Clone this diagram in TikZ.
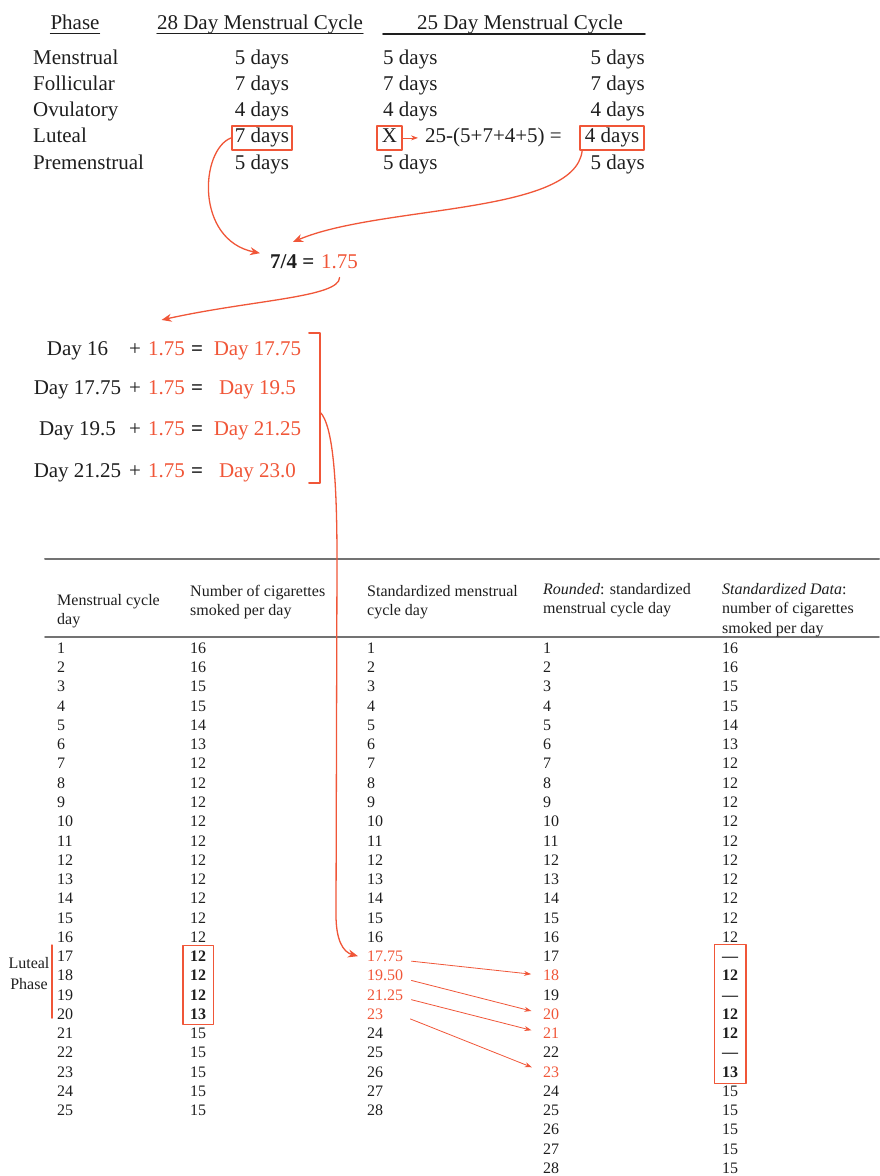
\documentclass[tikz,border=0pt]{standalone}
\usepackage{fontspec}
\setmainfont{Liberation Serif}
\usetikzlibrary{arrows.meta,positioning,fit}
\definecolor{myred}{RGB}{240,86,56}
\definecolor{ink}{RGB}{30,30,30}

\begin{document}
\begin{tikzpicture}[x=1pt,y=-1pt,line join=round,line cap=round,
	big/.style={font=\fontsize{21}{25}\selectfont,inner sep=0pt,text=ink},
	tab/.style={font=\fontsize{16}{19}\selectfont,inner sep=0pt,anchor=west,text height=10.8pt,text depth=0pt,text=ink},
	tabhead/.style={font=\fontsize{16}{19.5}\selectfont,inner sep=0pt,anchor=west,align=left,text=ink},
	redbox/.style={draw=myred,line width=1.6pt},
	bendarrow/.style={draw=myred,line width=1.3pt,-{Stealth[length=10pt,width=8pt]}},
	smallarrow/.style={draw=myred,line width=0.8pt,-{Stealth[length=7pt,width=5pt]}},
	hrule/.style={draw=black!55,line width=2pt}]
\useasboundingbox (0,0) rectangle (879,1176);

% phase table
\node[big,anchor=base] (phase) at (75,29) {Phase};
\node[big,anchor=base] (h28) at (260,29) {28 Day Menstrual Cycle};
\node[big,anchor=base] (h25) at (520,29) {25 Day Menstrual Cycle};
\draw[ink,line width=1pt] ([yshift=-4.5pt]phase.base west) -- ([yshift=-4.5pt]phase.base east);
\draw[ink,line width=1pt] ([yshift=-4.5pt]h28.base west) -- ([yshift=-4.5pt]h28.base east);
\draw[ink,line width=1.2pt] ([xshift=-34pt,yshift=-5pt]h25.base west) -- ([xshift=22pt,yshift=-5pt]h25.base east);

\foreach \pname/\plen/\prow in {Menstrual/5/1,Follicular/7/2,Ovulatory/4/3,Premenstrual/5/5}{
	\node[big,anchor=base west] (ph\prow) at (33,{64+(\prow-1)*26.25}) {\pname};
	\node[big,anchor=base] (a\prow) at (262,{64+(\prow-1)*26.25}) {\plen\ days};
	\node[big,anchor=base west] (b\prow) at (383,{64+(\prow-1)*26.25}) {\plen\ days};
	\node[big,anchor=base east] (c\prow) at (645,{64+(\prow-1)*26.25}) {\plen\ days};
}
\node[big,anchor=base west] (ph4) at (33,142.75) {Luteal};
\node[big,anchor=base,redbox,inner xsep=3pt,inner ysep=2.5pt,text height=14.3pt,text depth=4.6pt] (a4) at (262,142.75) {7 days};
\node[big,anchor=base,redbox,inner xsep=5pt,inner ysep=2.5pt,text height=14.3pt,text depth=4.6pt] (xb) at (389.5,142.75) {X};
\node[big,anchor=base west] (eq) at (425,142.75) {25-(5+7+4+5) =};
\node[big,anchor=base east,redbox,inner xsep=5pt,inner ysep=2.5pt,text height=14.3pt,text depth=4.6pt] (c4) at (645,142.75) {4 days};
\draw[smallarrow,shorten >=7pt] (xb.east) -- (xb.east -| eq.west);

% ratio
\node[big,anchor=base west] (ratio) at (270,268) {\textbf{7/4 =}};
\node[big,anchor=base west,text=myred] (val) at (321,268) {1.75};
\draw[bendarrow] (a4.west) .. controls (200,150) and (195,240) .. ([xshift=-10pt,yshift=8pt]ratio.west);
\draw[bendarrow] ([xshift=3pt]c4.south west) .. controls (575,215) and (380,205) .. ([xshift=23pt,yshift=12pt]ratio.north west);

% day steps
\foreach \lhs/\rhs/\yb [count=\i] in {16/17.75/355,17.75/19.5/394,19.5/21.25/435,21.25/23.0/477}{
	\node[big,anchor=base] (lhs\i) at (77.5,\yb) {Day \lhs};
	\node[big,anchor=base] (plus\i) at (135,\yb) {+};
	\node[big,anchor=base west,text=myred] (p\i) at (148,\yb) {1.75};
	\node[big,anchor=base] (equal\i) at (197,\yb) {\textbf{=}};
	\node[big,anchor=base,text=myred] (res\i) at (257.5,\yb) {Day \rhs};
}
\draw[bendarrow] ([yshift=-9pt]val.south) .. controls +(0,20) and +(90,-20) .. ([xshift=-5pt,yshift=21pt]p1.north);
\draw[myred,line width=2pt] (309,333) -- (320,333) -- (320,483) -- (309,483);
\coordinate (brk) at (320,412);

% data table
\draw[hrule] (45,559) -- (879,559);
\draw[hrule,line width=1.6pt] (45,637) -- (879,637);
\node[tabhead] (hd1) at (57,611) {Menstrual cycle\\day};
\node[tabhead] (hd2) at (190,602) {Number of cigarettes\\smoked per day};
\node[tabhead] (hd3) at (367,602) {Standardized menstrual\\cycle day};
\node[tabhead] (hd4) at (543,600) {\textit{Rounded}: standardized\\menstrual cycle day};
\node[tabhead] (hd5) at (722,610) {\textit{Standardized Data}:\\number of cigarettes\\smoked per day};

\foreach \v in {1,...,25}
	\node[tab] (m\v) at (57,{648+(\v-1)*19.26}) {\v};
\foreach \v [count=\i] in {16,16,15,15,14,13,12,12,12,12,12,12,12,12,12,12,\textbf{12},\textbf{12},\textbf{12},\textbf{13},15,15,15,15,15}
	\node[tab] (n\i) at (190,{648+(\i-1)*19.26}) {\v};
\foreach \v [count=\i] in {1,2,3,4,5,6,7,8,9,10,11,12,13,14,15,16,\textcolor{myred}{17.75},\textcolor{myred}{19.50},\textcolor{myred}{21.25},\textcolor{myred}{23},24,25,26,27,28}
	\node[tab] (s\i) at (367,{648+(\i-1)*19.26}) {\v};
\foreach \v [count=\i] in {1,2,3,4,5,6,7,8,9,10,11,12,13,14,15,16,17,\textcolor{myred}{18},19,\textcolor{myred}{20},\textcolor{myred}{21},22,\textcolor{myred}{23},24,25,26,27,28}
	\node[tab] (r\i) at (543,{648+(\i-1)*19.26}) {\v};
\foreach \v [count=\i] in {16,16,15,15,14,13,12,12,12,12,12,12,12,12,12,12,\textbf{—},\textbf{12},\textbf{—},\textbf{12},\textbf{12},\textbf{—},\textbf{13},15,15,15,15,15}
	\node[tab] (d\i) at (722,{648+(\i-1)*19.26}) {\v};

\node[fit=(n17)(n20),redbox,inner xsep=7pt,inner ysep=5pt] (lutbox) {};
\node[fit=(d17)(d23),redbox,inner xsep=7.5pt,inner ysep=6pt] (stdbox) {};
\node[font=\fontsize{16}{21}\selectfont,align=center,inner sep=0pt,text=ink] (lutlab) at (29,974) {Luteal\\Phase};
\draw[myred,line width=1.8pt] ([xshift=-5pt,yshift=11pt]m17.west) -- ([xshift=-5pt,yshift=-4pt]m20.west);

% arrows into the table
\draw[bendarrow] (brk) .. controls (333,425) and (337,480) .. (337,560) -- (336,915) .. controls (336,940) and (343,952) .. ([xshift=-9pt]s17.west);
\draw[smallarrow,shorten >=12pt] ([xshift=8pt,yshift=-5pt]s17.east) -- (r18.west);
\draw[smallarrow,shorten >=12pt] ([xshift=8pt,yshift=-5pt]s18.east) -- (r20.west);
\draw[smallarrow,shorten >=12pt] ([xshift=8pt,yshift=-5pt]s19.east) -- (r21.west);
\draw[smallarrow,shorten >=12pt] ([xshift=27pt,yshift=-5pt]s20.east) -- (r23.west);
\end{tikzpicture}
\end{document}
